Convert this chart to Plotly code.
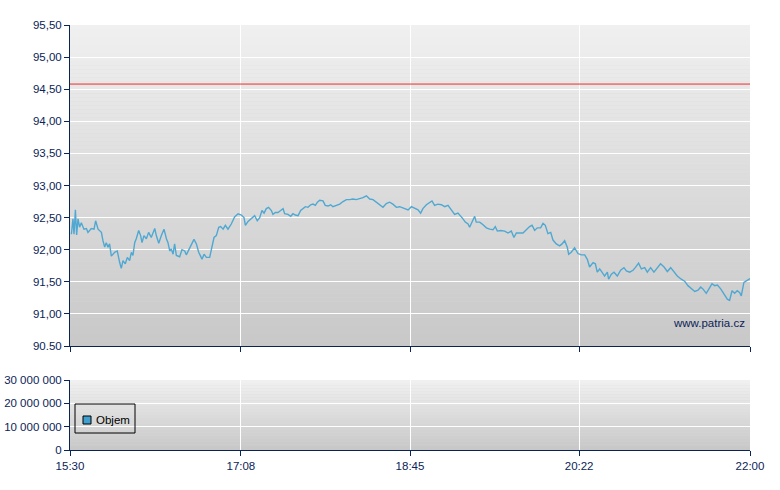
import pandas as pd
import plotly.graph_objects as go

# ---- data ----
session_start = "2024-01-02 15:30"
session_end = "2024-01-02 22:00"

# minutes after 15:30
minutes = [0.8, 1.7, 2.3, 3.1, 3.8, 4.6, 5.5, 6.5, 8.0, 9.4, 10.3, 12.2, 13.8, 14.7, 16.1, 18.0,
           18.9, 19.9, 20.8, 21.8, 22.7, 23.7, 25.6, 27.1, 28.5, 29.4, 30.4, 31.7, 32.9, 34.2,
           35.2, 36.1, 37.1, 38.0, 39.4, 40.5, 41.3, 42.4, 43.8, 45.1, 46.6, 48.6, 49.5, 50.9,
           52.4, 53.9, 55.3, 56.2, 57.2, 58.1, 59.1, 60.0, 61.0, 62.9, 64.2, 65.8, 66.7, 68.1,
           69.6, 71.1, 72.5, 73.8, 74.9, 75.7, 76.9, 78.2, 80.1, 81.4, 82.6, 83.9, 85.3, 86.4,
           87.8, 89.1, 90.6, 92.5, 94.4, 96.4, 98.3,
           99.8, 100.6, 102.1, 104.0, 105.9, 107.4, 108.8, 110.1, 111.3, 112.6, 113.9, 115.5,
           116.4, 117.8, 119.3, 120.8, 122.2, 123.1, 125.0, 126.6, 127.9, 129.2, 130.8, 132.3,
           133.6, 135.0, 136.5, 138.0, 139.4, 140.7, 141.9, 143.2, 145.1, 146.4, 148.0, 149.5,
           150.8, 152.7, 154.7, 156.6, 158.5, 160.4, 162.3, 164.2, 166.1, 168.0, 170.0, 171.9,
           173.8, 175.7, 177.6, 179.5, 181.4, 183.3, 185.2, 187.2, 189.1, 191.0, 192.9, 193.9,
           195.8, 197.7, 199.6, 201.1, 202.4, 204.4, 206.3, 207.6, 209.1, 211.0, 213.0, 214.9,
           216.8, 218.7, 220.6, 222.5, 224.0, 225.4, 226.7, 228.3, 229.2, 230.5, 232.1, 233.0,
           235.0, 236.9, 238.8, 240.7, 242.6, 243.9, 245.1, 247.0, 249.3, 251.2, 253.1, 254.6,
           256.0, 257.9, 259.8, 261.7, 263.6, 265.0, 266.5, 268.0, 269.9, 271.3, 272.6, 274.1,
           275.7, 277.0, 278.9, 280.8, 282.2, 283.7, 285.2, 286.0, 287.5, 289.4, 291.3,
           293.3, 295.2, 296.7, 298.0, 300.0, 301.3, 302.4, 303.8, 305.1, 306.6, 308.2, 308.9,
           310.5, 312.0, 313.9, 315.8, 317.7, 319.1, 321.0, 322.9, 324.2, 326.1, 327.7, 329.6,
           331.1, 333.0, 334.9, 336.8, 338.7, 340.7, 342.6, 344.5, 346.4, 348.3, 350.6, 352.5,
           354.4, 356.3, 358.3, 360.2, 361.7, 363.0, 364.9, 366.9, 368.2, 369.7, 371.3, 373.2,
           375.1, 377.0, 378.3, 379.7, 381.2, 382.7, 384.1, 385.0, 386.5, 387.9, 389.2, 390.0]

prices = [92.24, 92.48, 92.24, 92.62, 92.23, 92.48, 92.35, 92.42, 92.32, 92.33, 92.27, 92.33,
          92.32, 92.45, 92.32, 92.27, 92.14, 92.04, 92.11, 92.04, 92.09, 91.90, 91.96, 91.98,
          91.80, 91.71, 91.83, 91.78, 91.88, 91.83, 91.96, 91.91, 92.11, 92.17, 92.30, 92.22,
          92.11, 92.22, 92.17, 92.27, 92.19, 92.33, 92.22, 92.10, 92.22, 92.32, 92.17, 92.11,
          91.98, 92.01, 91.93, 92.09, 91.91, 91.89, 92.00, 91.98, 91.92, 92.00, 92.06, 92.16,
          92.09, 91.96, 91.90, 91.85, 91.93, 91.88, 91.88, 92.05, 92.19, 92.22, 92.35, 92.36,
          92.32, 92.38, 92.32, 92.40, 92.51, 92.56, 92.54,
          92.50, 92.38, 92.44, 92.48, 92.53, 92.45, 92.50, 92.61, 92.57, 92.64, 92.66, 92.61,
          92.55, 92.58, 92.58, 92.61, 92.64, 92.56, 92.55, 92.52, 92.56, 92.54, 92.53, 92.61,
          92.64, 92.67, 92.66, 92.70, 92.71, 92.69, 92.74, 92.77, 92.76, 92.69, 92.68, 92.70,
          92.67, 92.69, 92.71, 92.75, 92.78, 92.78, 92.79, 92.78, 92.79, 92.81, 92.84, 92.79,
          92.78, 92.74, 92.70, 92.66, 92.72, 92.74, 92.71, 92.66, 92.67, 92.65, 92.64, 92.62,
          92.67, 92.65, 92.62, 92.57, 92.64, 92.70, 92.74, 92.76, 92.69, 92.71, 92.70, 92.67,
          92.69, 92.62, 92.55, 92.57, 92.53, 92.48, 92.43, 92.40, 92.35, 92.44, 92.52, 92.43,
          92.43, 92.39, 92.34, 92.32, 92.31, 92.36, 92.29, 92.30, 92.29, 92.26, 92.29, 92.19,
          92.26, 92.26, 92.26, 92.31, 92.36, 92.38, 92.30, 92.34, 92.34, 92.41, 92.38, 92.25,
          92.27, 92.15, 92.09, 92.06, 92.09, 92.14, 92.04, 91.93, 91.96, 92.03, 91.94,
          91.92, 91.92, 91.85, 91.73, 91.80, 91.78, 91.65, 91.70, 91.65, 91.59, 91.65, 91.54,
          91.62, 91.65, 91.59, 91.68, 91.72, 91.67, 91.65, 91.68, 91.72, 91.79, 91.70, 91.72,
          91.65, 91.72, 91.65, 91.71, 91.78, 91.73, 91.66, 91.72, 91.66, 91.59, 91.54, 91.51,
          91.44, 91.39, 91.35, 91.37, 91.42, 91.39, 91.32, 91.41, 91.47, 91.44, 91.45, 91.39,
          91.30, 91.23, 91.21, 91.36, 91.32, 91.36, 91.33, 91.28, 91.49, 91.51, 91.54, 91.55]

reference_price = 94.58

# volume bars are not visible in the picture (no readable values)
volume_minutes = []
volumes = []

x_tick_minutes = [0, 98, 195, 292, 390]
x_tick_labels = ["15:30", "17:08", "18:45", "20:22", "22:00"]

price_ticks = [90.5, 91.0, 91.5, 92.0, 92.5, 93.0, 93.5, 94.0, 94.5, 95.0, 95.5]
price_tick_labels = ["90.50", "91,00", "91,50", "92,00", "92,50", "93,00", "93,50",
                     "94,00", "94,50", "95,00", "95,50"]
volume_ticks = [0, 10000000, 20000000, 30000000]
volume_tick_labels = ["0", "10 000 000", "20 000 000", "30 000 000"]

# ---- build ----
t0 = pd.Timestamp(session_start)
t_end = pd.Timestamp(session_end)
times = [t0 + pd.Timedelta(minutes=m) for m in minutes]
vol_times = [t0 + pd.Timedelta(minutes=m) for m in volume_minutes]
tick_times = [t0 + pd.Timedelta(minutes=m) for m in x_tick_minutes]

NAVY = "#0b2457"
LINE = "#4fa8d2"
VOL = "#3f9fcf"
FONT = "Liberation Sans, Arial, sans-serif"
FS = 11.5

fig = go.Figure()
fig.add_trace(go.Scatter(x=[t0, t_end], y=[reference_price, reference_price], mode="lines",
                         line=dict(color="#ee2a2a", width=1), showlegend=False,
                         xaxis="x", yaxis="y", hoverinfo="skip"))
fig.add_trace(go.Scatter(x=times, y=prices, mode="lines", line=dict(color=LINE, width=1.4),
                         showlegend=False, xaxis="x", yaxis="y"))
fig.add_trace(go.Bar(x=vol_times, y=volumes, name="Objem",
                     marker=dict(color=VOL, line=dict(color="#000000", width=1)),
                     xaxis="x2", yaxis="y2", showlegend=False))

W, H = 780, 490
L, R, T, B = 70, 30, 25, 40
pw = W - L - R
ph = H - T - B
def px_x(px):
    return (px - L) / pw
def px_y(py):
    return (H - B - py) / ph

# gradient backgrounds via stripes
shapes = []
def gradient(yref, n, c_top, c_bot):
    for i in range(n):
        f = i / (n - 1)
        c = int(round(c_top + (c_bot - c_top) * f))
        shapes.append(dict(type="rect", xref=yref.replace("y", "x") + " domain", yref=yref + " domain",
                           x0=0, x1=1, y0=1 - (i + 1) / n, y1=1 - i / n,
                           fillcolor=f"rgb({c},{c},{c})", line=dict(width=0), layer="below"))
gradient("y", 80, 240, 200)
gradient("y2", 24, 240, 200)

# legend box (drawn manually to match the compact original)
shapes.append(dict(type="rect", xref="paper", yref="paper", x0=px_x(75), x1=px_x(135),
                   y0=px_y(433), y1=px_y(404), line=dict(color="#000000", width=1),
                   fillcolor="rgba(0,0,0,0)", layer="above"))
shapes.append(dict(type="rect", xref="paper", yref="paper", x0=px_x(83), x1=px_x(91),
                   y0=px_y(424), y1=px_y(416), line=dict(color="#000000", width=1),
                   fillcolor=VOL, layer="above"))

top_lo = px_y(346)
bot_hi = px_y(380)

axis_common = dict(showline=True, linecolor=NAVY, linewidth=1, ticks="outside", ticklen=5,
                   tickcolor=NAVY, showgrid=True, gridcolor="#ffffff", gridwidth=1,
                   zeroline=False, automargin=False,
                   tickfont=dict(color=NAVY, size=FS, family=FONT))

fig.update_layout(
    width=W, height=H,
    margin=dict(l=L, r=R, t=T, b=B),
    paper_bgcolor="#ffffff", plot_bgcolor="#d8d8d8",
    font=dict(family=FONT, size=FS, color=NAVY),
    shapes=shapes,
    showlegend=False,
    xaxis=dict(domain=[0, 1], anchor="y", type="date", range=[t0, t_end],
               tickvals=tick_times, ticktext=x_tick_labels, showticklabels=False, **axis_common),
    xaxis2=dict(domain=[0, 1], anchor="y2", type="date", range=[t0, t_end],
                tickvals=tick_times, ticktext=x_tick_labels, showticklabels=True, **axis_common),
    yaxis=dict(domain=[top_lo, 1], anchor="x", range=[90.5, 95.5], tickvals=price_ticks,
               ticktext=price_tick_labels, **axis_common),
    yaxis2=dict(domain=[0, bot_hi], anchor="x2", range=[0, 30000000], tickvals=volume_ticks,
                ticktext=volume_tick_labels, **axis_common),
    annotations=[
        dict(text="www.patria.cz", xref="x domain", yref="y domain", x=0.995, y=0.072,
             xanchor="right", yanchor="middle", showarrow=False,
             font=dict(color=NAVY, size=FS, family=FONT)),
        dict(text="Objem", xref="paper", yref="paper", x=px_x(94), y=px_y(420),
             xanchor="left", yanchor="middle", showarrow=False,
             font=dict(color="#000000", size=FS, family=FONT)),
    ],
)

fig.write_html("out.html", config={"displayModeBar": False},
               post_script="document.body.style.margin='0';document.body.style.padding='0';")
